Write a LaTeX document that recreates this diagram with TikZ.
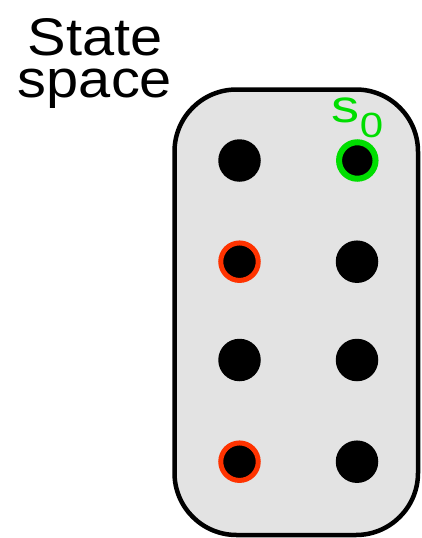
\documentclass[tikz,border=0pt]{standalone}
\usepackage{fontspec}
\setmainfont{Liberation Sans}
\definecolor{boxgray}{RGB}{227,227,227}
\definecolor{startgreen}{RGB}{0,222,0}
\definecolor{goalred}{RGB}{255,51,0}
\begin{document}
\begin{tikzpicture}[x=1pt,y=-1pt,
  statedot/.style={circle,inner sep=0pt,minimum size=42.5pt,fill=black},
  goaldot/.style={circle,inner sep=0pt,minimum size=37.5pt,fill=black,draw=goalred,line width=5pt},
  startdot/.style={circle,inner sep=0pt,minimum size=36.5pt,fill=black,draw=startgreen,line width=6pt}]
  \useasboundingbox (0,0) rectangle (421,538);
  % the state space container
  \draw[fill=boxgray,line width=4.5pt,rounded corners=62pt] (174.5,89.5) rectangle (418,535);
  % title (two lines, tight leading)
  \node[anchor=base,align=center,inner sep=0pt,font=\fontsize{53}{42}\selectfont] (title) at (95,97)
    {\scalebox{1.09}[1]{State}\\\scalebox{1.09}[1]{space}};
  % states
  \node[statedot] (a1) at (239.5,160.5) {};
  \node[startdot] (b1) at (357.3,160.5) {};
  \node[goaldot]  (a2) at (239.5,261.7) {};
  \node[statedot] (b2) at (357,261.7) {};
  \node[statedot] (a3) at (239.5,360) {};
  \node[statedot] (b3) at (357,360) {};
  \node[goaldot]  (a4) at (239.5,461.7) {};
  \node[statedot] (b4) at (357,461.7) {};
  % start state label
  \node[anchor=base west,inner sep=0pt,text=startgreen] (s0) at (331.5,122)
    {\scalebox{1.22}[1]{\fontsize{46}{46}\selectfont s}\raisebox{-15pt}{\scalebox{1.2}[1]{\fontsize{35}{35}\selectfont 0}}};
\end{tikzpicture}
\end{document}
